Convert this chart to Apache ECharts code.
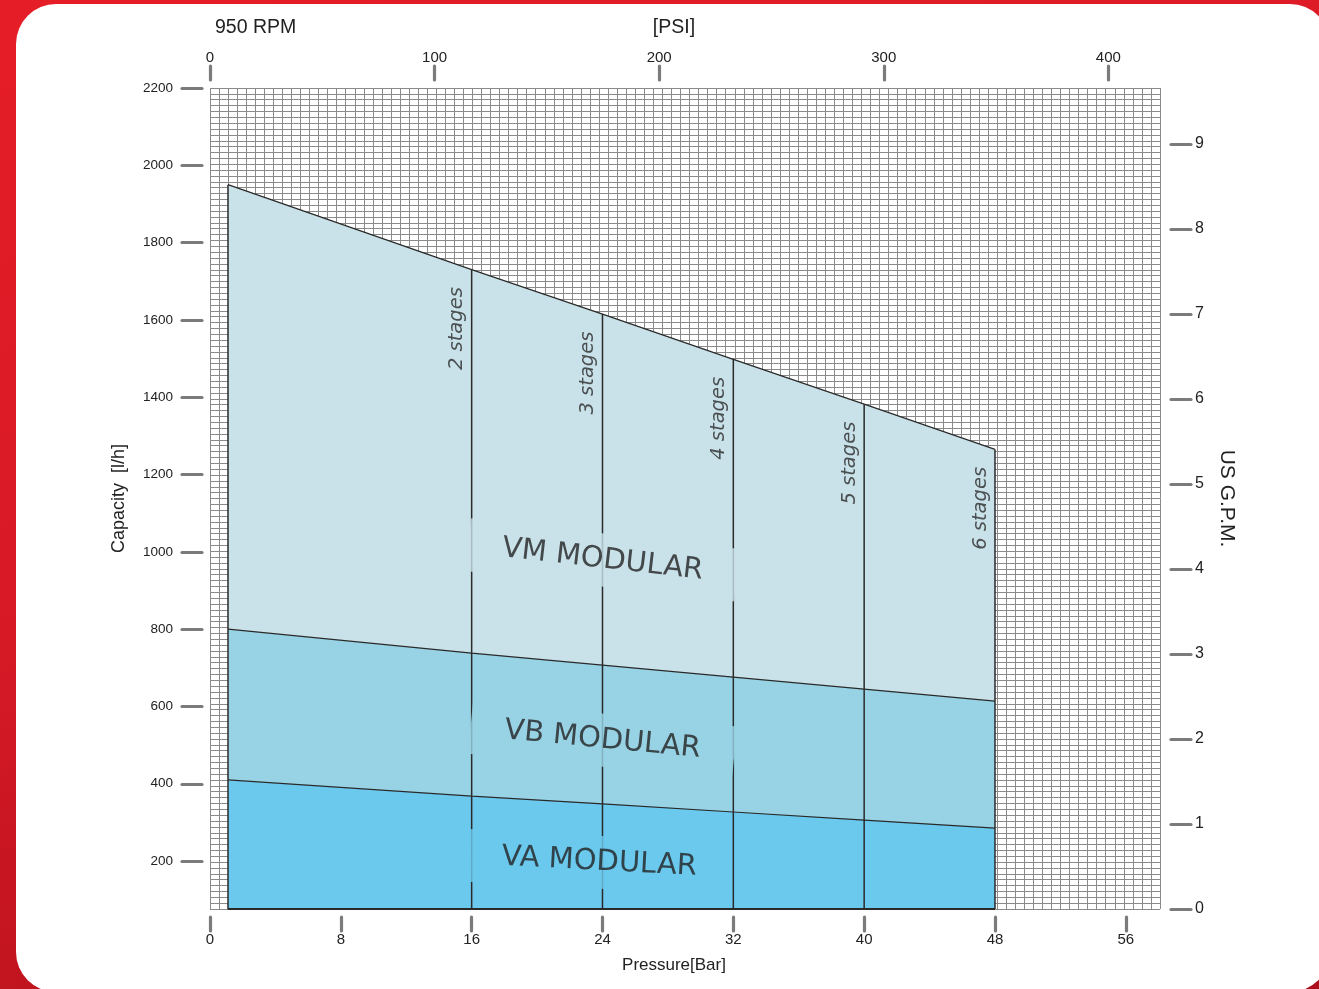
<!DOCTYPE html>
<html>
<head>
<meta charset="utf-8">
<script src="https://cdn.jsdelivr.net/npm/echarts@6/dist/echarts.min.js"></script>
<style>
html, body { margin: 0; padding: 0; width: 1319px; height: 989px; overflow: hidden; }
body { background: linear-gradient(165deg, #e51d26 0%, #d81a26 45%, #ab0f19 100%); }
#frame { position: absolute; left: 16px; top: 4px; width: 1314px; height: 988px; background: #fff; border-radius: 40px; }
#chart { position: absolute; left: 0; top: 0; width: 1319px; height: 989px; }
</style>
</head>
<body>
<div id="frame"></div>
<div id="chart"></div>
<script>
// ---- data ----
const pressureBar = [1.1, 16, 24, 32, 40, 48];
const vmCapacity = [1950, 1730, 1615, 1498, 1382, 1265];
const vbCapacity = [800, 738, 707, 676, 645, 614];
const vaCapacity = [410, 368, 348, 327, 306, 285];
const stagePressure = [16, 24, 32, 40, 48];
const stageTopCapacity = [1730, 1615, 1498, 1382, 1265];
const stageNames = ['2 stages', '3 stages', '4 stages', '5 stages', '6 stages'];
const zoneNames = ['VM MODULAR', 'VB MODULAR', 'VA MODULAR'];
const barTicks = [0, 8, 16, 24, 32, 40, 48, 56];
const psiTicks = [0, 100, 200, 300, 400];
const capacityTicks = [200, 400, 600, 800, 1000, 1200, 1400, 1600, 1800, 2000, 2200];
const gpmTicks = [0, 1, 2, 3, 4, 5, 6, 7, 8, 9];

// ---- axis extents ----
const BAR_MAX = 58.09, PSI_MAX = 423;
const CAP_MIN = 76, CAP_MAX = 2200;
const GPM_MAX = 9.66;

// ---- layout / style (annotations) ----
const zoneLabelAnchor = [[24, 979], [24, 513], [23.8, 197]];
const zoneLabelRotate = [-6.5, -5.5, -3];
const zoneColors = ['#c9e1e8', '#98d3e5', '#6bc9ee'];
const FONT = 'Liberation Sans, Arial, sans-serif';
const tickStyle = { color: '#7b7b7b', width: 3.2, cap: 'round' };
const ink = '#2a2a2a';
const plain = v => String(v);

const chart = echarts.init(document.getElementById('chart'), null, { renderer: 'canvas' });

function areaSeries(name, values, color) {
  return {
    type: 'line', name: name, xAxisIndex: 0, yAxisIndex: 0,
    data: pressureBar.map((p, i) => [p, values[i]]),
    symbol: 'none', silent: true, z: 2,
    lineStyle: { color: ink, width: 1.2 },
    areaStyle: { color: color, opacity: 1, origin: 'start' }
  };
}
function edgeSeries(points, width) {
  return {
    type: 'line', xAxisIndex: 0, yAxisIndex: 0, data: points,
    symbol: 'none', silent: true, z: 3, clip: false,
    lineStyle: { color: ink, width: width }
  };
}

const series = [
  areaSeries('VM', vmCapacity, zoneColors[0]),
  areaSeries('VB', vbCapacity, zoneColors[1]),
  areaSeries('VA', vaCapacity, zoneColors[2]),
  edgeSeries([[pressureBar[0], CAP_MIN], [pressureBar[0], vmCapacity[0]]], 1.5),
  edgeSeries([[pressureBar[0], CAP_MIN], [pressureBar[pressureBar.length - 1], CAP_MIN]], 2.2)
];
stagePressure.forEach((p, i) => {
  series.push(edgeSeries([[p, CAP_MIN], [p, stageTopCapacity[i]]], 1.5));
});
series.push({
  type: 'scatter', xAxisIndex: 0, yAxisIndex: 0, z: 6, silent: true,
  symbolSize: 1, itemStyle: { color: 'rgba(0,0,0,0)' },
  data: zoneNames.map((n, i) => ({
    name: n, value: zoneLabelAnchor[i],
    label: { rotate: zoneLabelRotate[i], backgroundColor: zoneColors[i] }
  })),
  label: {
    show: true, position: 'inside', formatter: '{b}',
    fontFamily: 'DejaVu Sans, sans-serif', fontSize: 29, color: '#222',
    padding: [12, 34, 12, 34]
  }
});
series.push({
  type: 'scatter', xAxisIndex: 0, yAxisIndex: 0, z: 6, silent: true,
  symbolSize: 1, itemStyle: { color: 'rgba(0,0,0,0)' },
  data: stagePressure.map((p, i) => ({ name: stageNames[i], value: [p, stageTopCapacity[i]] })),
  label: {
    show: true, position: [-4, 18], align: 'right', verticalAlign: 'bottom', rotate: 90,
    formatter: '{b}', fontFamily: 'DejaVu Sans, sans-serif', fontStyle: 'italic',
    fontSize: 19.5, color: '#2a2a2a'
  }
});

const meshLine = { show: true, lineStyle: { color: '#8a8a8a', width: 1 } };

const option = {
  animation: false,
  backgroundColor: 'transparent',
  title: {
    text: '950 RPM', left: 210, top: 13,
    textStyle: { fontFamily: FONT, fontSize: 19.5, fontWeight: 'normal', color: '#222' }
  },
  grid: { left: 210, right: 159, top: 88, bottom: 80, containLabel: false },
  xAxis: [
    {
      type: 'value', position: 'bottom', min: 0, max: BAR_MAX, offset: 8,
      name: 'Pressure[Bar]', nameLocation: 'middle', nameGap: 40,
      nameTextStyle: { fontFamily: FONT, fontSize: 17, color: '#222', padding: [0, 22, 0, 0] },
      axisLine: { show: false, onZero: false },
      axisTick: { show: true, length: 14, customValues: barTicks, lineStyle: tickStyle },
      axisLabel: { customValues: barTicks, formatter: plain, margin: 15, fontFamily: FONT, fontSize: 15, color: '#222' },
      splitLine: { show: false }
    },
    {
      type: 'value', position: 'top', min: 0, max: PSI_MAX, offset: 8,
      name: '[PSI]', nameLocation: 'middle', nameGap: 42,
      nameTextStyle: { fontFamily: FONT, fontSize: 19.5, color: '#222', padding: [0, 22, 0, 0] },
      axisLine: { show: false, onZero: false },
      axisTick: { show: true, length: 14, customValues: psiTicks, lineStyle: tickStyle },
      axisLabel: { customValues: psiTicks, formatter: plain, margin: 15, fontFamily: FONT, fontSize: 15, color: '#222' },
      splitLine: { show: false }
    },
    {
      type: 'value', position: 'bottom', min: 0, max: 105, interval: 1,
      axisLine: { show: false, onZero: false }, axisTick: { show: false }, axisLabel: { show: false },
      splitLine: meshLine, silent: true
    }
  ],
  yAxis: [
    {
      type: 'value', position: 'left', min: CAP_MIN, max: CAP_MAX, offset: 8,
      name: 'Capacity  [l/h]', nameLocation: 'middle', nameGap: 74,
      nameTextStyle: { fontFamily: FONT, fontSize: 18, color: '#222' },
      axisLine: { show: false, onZero: false },
      axisTick: { show: true, length: 20, customValues: capacityTicks, lineStyle: tickStyle },
      axisLabel: { customValues: capacityTicks, formatter: plain, margin: 29, fontFamily: FONT, fontSize: 13.5, color: '#222' },
      splitLine: { show: false }
    },
    {
      type: 'value', position: 'right', min: 0, max: GPM_MAX, offset: 11,
      name: 'US G.P.M.', nameLocation: 'middle', nameGap: 45, nameRotate: -90,
      nameTextStyle: { fontFamily: FONT, fontSize: 21, color: '#222' },
      axisLine: { show: false, onZero: false },
      axisTick: { show: true, length: 20, customValues: gpmTicks, lineStyle: tickStyle },
      axisLabel: { customValues: gpmTicks, formatter: plain, margin: 24, fontFamily: FONT, fontSize: 16, color: '#222' },
      splitLine: { show: false }
    },
    {
      type: 'value', position: 'left', min: 0, max: 140, interval: 1,
      axisLine: { show: false, onZero: false }, axisTick: { show: false }, axisLabel: { show: false },
      splitLine: meshLine, silent: true
    }
  ],
  series: series
};
chart.setOption(option);
</script>
</body>
</html>
